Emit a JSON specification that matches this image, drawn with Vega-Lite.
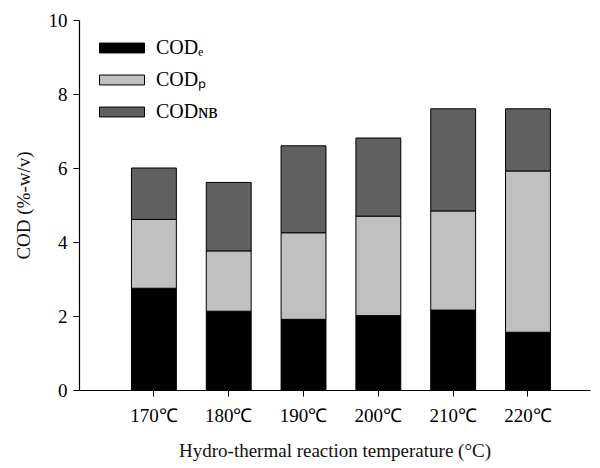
{
  "$schema": "https://vega.github.io/schema/vega-lite/v6.json",
  "width": 511,
  "height": 370,
  "autosize": {"type": "none"},
  "padding": {"left": 79, "top": 20, "right": 10, "bottom": 78},
  "background": "white",
  "config": {
    "view": {"stroke": null},
    "font": "Liberation Serif",
    "axis": {
      "labelFont": "Liberation Serif",
      "titleFont": "Liberation Serif",
      "labelFontSize": 19,
      "titleFontSize": 19,
      "titleFontWeight": "normal",
      "labelColor": "#000",
      "titleColor": "#111",
      "domainColor": "#000",
      "tickColor": "#000",
      "domainWidth": 1.2,
      "tickWidth": 1,
      "tickSize": 6,
      "grid": false
    },
    "legend": {
      "labelFont": "Liberation Serif",
      "labelFontSize": 20
    }
  },
  "data": {
    "values": [
      {"temp": "170℃", "comp": "CODₑ", "ord": 1, "value": 2.75},
      {"temp": "170℃", "comp": "CODₚ", "ord": 2, "value": 1.86},
      {"temp": "170℃", "comp": "CODɴʙ", "ord": 3, "value": 1.39},
      {"temp": "180℃", "comp": "CODₑ", "ord": 1, "value": 2.13},
      {"temp": "180℃", "comp": "CODₚ", "ord": 2, "value": 1.63},
      {"temp": "180℃", "comp": "CODɴʙ", "ord": 3, "value": 1.85},
      {"temp": "190℃", "comp": "CODₑ", "ord": 1, "value": 1.91},
      {"temp": "190℃", "comp": "CODₚ", "ord": 2, "value": 2.34},
      {"temp": "190℃", "comp": "CODɴʙ", "ord": 3, "value": 2.35},
      {"temp": "200℃", "comp": "CODₑ", "ord": 1, "value": 2.01},
      {"temp": "200℃", "comp": "CODₚ", "ord": 2, "value": 2.69},
      {"temp": "200℃", "comp": "CODɴʙ", "ord": 3, "value": 2.11},
      {"temp": "210℃", "comp": "CODₑ", "ord": 1, "value": 2.16},
      {"temp": "210℃", "comp": "CODₚ", "ord": 2, "value": 2.68},
      {"temp": "210℃", "comp": "CODɴʙ", "ord": 3, "value": 2.76},
      {"temp": "220℃", "comp": "CODₑ", "ord": 1, "value": 1.56},
      {"temp": "220℃", "comp": "CODₚ", "ord": 2, "value": 4.36},
      {"temp": "220℃", "comp": "CODɴʙ", "ord": 3, "value": 1.68}
    ]
  },
  "mark": {"type": "bar", "stroke": "#000", "strokeWidth": 1},
  "encoding": {
    "x": {
      "field": "temp",
      "type": "nominal",
      "sort": null,
      "scale": {"paddingInner": 0.4, "paddingOuter": 0.615, "align": 0.57},
      "axis": {
        "title": "Hydro-thermal reaction temperature (°C)",
        "labelAngle": 0,
        "labelPadding": 10,
        "titlePadding": 16
      }
    },
    "y": {
      "field": "value",
      "type": "quantitative",
      "stack": "zero",
      "scale": {"domain": [0, 10], "nice": false},
      "axis": {
        "title": "COD (%-w/v)",
        "values": [0, 2, 4, 6, 8, 10],
        "labelPadding": 6,
        "titlePadding": 15
      }
    },
    "color": {
      "field": "comp",
      "type": "nominal",
      "sort": ["CODₑ", "CODₚ", "CODɴʙ"],
      "scale": {
        "domain": ["CODₑ", "CODₚ", "CODɴʙ"],
        "range": ["#000000", "#c0c0c0", "#606060"]
      },
      "legend": {
        "title": null,
        "orient": "none",
        "legendX": 31,
        "legendY": 16,
        "symbolType": "M-2,-0.44H2V0.44H-2Z",
        "symbolSize": 506,
        "symbolStrokeColor": "#000",
        "symbolStrokeWidth": 1,
        "symbolOpacity": 1,
        "rowPadding": 10,
        "labelOffset": 22
      }
    },
    "order": {"field": "ord", "type": "quantitative"}
  }
}
